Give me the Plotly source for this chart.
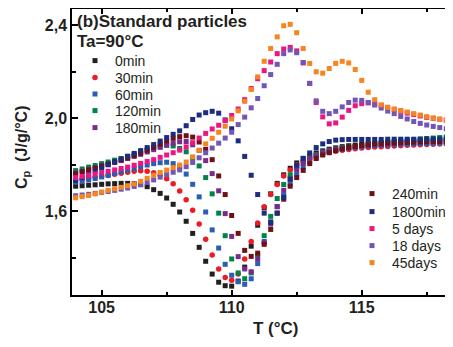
import plotly.graph_objects as go

T = [104.0, 104.25, 104.5, 104.75, 105.0, 105.25, 105.5, 105.75, 106.0, 106.25,
     106.5, 106.75, 107.0, 107.25, 107.5, 107.75, 108.0, 108.25, 108.5, 108.75,
     109.0, 109.25, 109.5, 109.75, 110.0, 110.25, 110.5, 110.75, 111.0, 111.25,
     111.5, 111.75, 112.0, 112.25, 112.5, 112.75, 113.0, 113.25, 113.5, 113.75,
     114.0, 114.25, 114.5, 114.75, 115.0, 115.25, 115.5, 115.75, 116.0, 116.25,
     116.5, 116.75, 117.0, 117.25, 117.5, 117.75, 118.0, 118.25, 118.5]

cp_0min = [1.708, 1.710, 1.712, 1.714, 1.716, 1.718, 1.719, 1.720, 1.720, 1.719,
           1.715, 1.706, 1.693, 1.677, 1.657, 1.630, 1.597, 1.557, 1.505, 1.445,
           1.385, 1.330, 1.295, 1.280, 1.278, 1.300, 1.360, 1.450, 1.540, 1.615,
           1.675, 1.720, 1.757, 1.785, 1.808, 1.826, 1.840, 1.851, 1.860, 1.867,
           1.873, 1.878, 1.882, 1.885, 1.888, 1.891, 1.893, 1.895, 1.897, 1.899,
           1.900, 1.902, 1.903, 1.904, 1.905, 1.906, 1.907, 1.908, 1.908]

cp_30min = [1.735, 1.738, 1.742, 1.746, 1.750, 1.754, 1.759, 1.764, 1.768, 1.772,
            1.774, 1.772, 1.766, 1.755, 1.740, 1.718, 1.687, 1.650, 1.605, 1.545,
            1.480, 1.412, 1.352, 1.315, 1.303, 1.330, 1.395, 1.470, 1.550, 1.620,
            1.672, 1.715, 1.752, 1.778, 1.800, 1.815, 1.828, 1.838, 1.846, 1.853,
            1.858, 1.862, 1.866, 1.869, 1.872, 1.874, 1.876, 1.878, 1.879, 1.881,
            1.882, 1.884, 1.885, 1.886, 1.887, 1.888, 1.889, 1.890, 1.891]

cp_60min = [1.725, 1.729, 1.735, 1.741, 1.748, 1.755, 1.762, 1.770, 1.777, 1.785,
            1.792, 1.799, 1.805, 1.809, 1.811, 1.805, 1.790, 1.760, 1.716, 1.662,
            1.597, 1.520, 1.442, 1.372, 1.325, 1.297, 1.286, 1.310, 1.375, 1.470,
            1.555, 1.620, 1.670, 1.718, 1.760, 1.790, 1.815, 1.832, 1.845, 1.855,
            1.862, 1.867, 1.872, 1.875, 1.878, 1.880, 1.882, 1.884, 1.886, 1.887,
            1.888, 1.889, 1.890, 1.891, 1.892, 1.893, 1.894, 1.895, 1.896]

cp_120min = [1.775, 1.782, 1.790, 1.797, 1.805, 1.812, 1.820, 1.827, 1.835, 1.845,
             1.855, 1.864, 1.872, 1.880, 1.884, 1.881, 1.870, 1.856, 1.830, 1.795,
             1.745, 1.675, 1.592, 1.495, 1.395, 1.335, 1.310, 1.335, 1.410, 1.495,
             1.578, 1.655, 1.715, 1.757, 1.789, 1.812, 1.830, 1.844, 1.855, 1.862,
             1.868, 1.872, 1.875, 1.879, 1.883, 1.887, 1.890, 1.893, 1.896, 1.899,
             1.902, 1.905, 1.908, 1.911, 1.913, 1.915, 1.917, 1.919, 1.920]

cp_180min = [1.765, 1.772, 1.780, 1.787, 1.795, 1.803, 1.810, 1.818, 1.827, 1.836,
             1.845, 1.855, 1.865, 1.875, 1.885, 1.893, 1.899, 1.900, 1.886, 1.862,
             1.818, 1.762, 1.688, 1.590, 1.492, 1.405, 1.352, 1.340, 1.395, 1.465,
             1.545, 1.620, 1.690, 1.738, 1.780, 1.806, 1.826, 1.841, 1.852, 1.860,
             1.866, 1.871, 1.875, 1.878, 1.881, 1.884, 1.886, 1.888, 1.890, 1.892,
             1.894, 1.896, 1.898, 1.899, 1.900, 1.901, 1.902, 1.903, 1.904]

cp_240min = [1.762, 1.770, 1.778, 1.786, 1.795, 1.803, 1.812, 1.821, 1.830, 1.840,
             1.850, 1.862, 1.875, 1.889, 1.903, 1.914, 1.921, 1.925, 1.919, 1.898,
             1.866, 1.822, 1.752, 1.672, 1.582, 1.505, 1.432, 1.406, 1.420, 1.458,
             1.522, 1.592, 1.652, 1.708, 1.745, 1.776, 1.805, 1.827, 1.842, 1.852,
             1.861, 1.868, 1.874, 1.879, 1.883, 1.886, 1.889, 1.891, 1.893, 1.894,
             1.895, 1.896, 1.897, 1.898, 1.899, 1.900, 1.900, 1.901, 1.902]

cp_1800min = [1.732, 1.745, 1.758, 1.772, 1.786, 1.800, 1.813, 1.825, 1.837, 1.849,
              1.861, 1.874, 1.887, 1.902, 1.917, 1.931, 1.946, 1.968, 1.995, 2.014,
              2.024, 2.030, 2.022, 1.993, 1.955, 1.903, 1.836, 1.755, 1.672, 1.592,
              1.552, 1.592, 1.660, 1.738, 1.798, 1.828, 1.851, 1.874, 1.890, 1.900,
              1.906, 1.908, 1.909, 1.909, 1.909, 1.909, 1.909, 1.909, 1.910, 1.910,
              1.910, 1.910, 1.910, 1.910, 1.911, 1.911, 1.911, 1.911, 1.911]

cp_5days = [1.745, 1.750, 1.755, 1.760, 1.766, 1.772, 1.778, 1.784, 1.790, 1.798,
            1.806, 1.814, 1.822, 1.832, 1.842, 1.852, 1.863, 1.877, 1.895, 1.915,
            1.935, 1.954, 1.970, 1.990, 2.012, 2.040, 2.080, 2.128, 2.170, 2.205,
            2.242, 2.278, 2.298, 2.305, 2.290, 2.238, 2.150, 2.068, 2.006, 1.976,
            1.980, 2.005, 2.034, 2.054, 2.063, 2.066, 2.063, 2.055, 2.047, 2.038,
            2.030, 2.022, 2.016, 2.010, 2.004, 2.000, 1.996, 1.993, 1.990]

cp_18days = [1.667, 1.670, 1.673, 1.677, 1.681, 1.685, 1.690, 1.695, 1.700, 1.707,
             1.714, 1.724, 1.735, 1.747, 1.758, 1.768, 1.778, 1.792, 1.810, 1.830,
             1.852, 1.872, 1.893, 1.915, 1.940, 1.973, 2.005, 2.045, 2.085, 2.140,
             2.188, 2.232, 2.278, 2.294, 2.282, 2.240, 2.150, 2.075, 2.030, 2.020,
             2.030, 2.049, 2.068, 2.078, 2.077, 2.068, 2.057, 2.044, 2.031, 2.020,
             2.008, 1.997, 1.986, 1.978, 1.971, 1.965, 1.960, 1.955, 1.951]

cp_45days = [1.658, 1.663, 1.668, 1.675, 1.683, 1.690, 1.697, 1.703, 1.710, 1.718,
             1.729, 1.742, 1.755, 1.767, 1.777, 1.788, 1.799, 1.812, 1.834, 1.862,
             1.890, 1.914, 1.940, 1.966, 1.997, 2.032, 2.073, 2.124, 2.178, 2.245,
             2.300, 2.350, 2.398, 2.404, 2.368, 2.300, 2.236, 2.200, 2.194, 2.214,
             2.236, 2.245, 2.238, 2.210, 2.163, 2.112, 2.080, 2.058, 2.047, 2.040,
             2.034, 2.027, 2.020, 2.014, 2.007, 2.001, 1.996, 1.990, 1.984]

series_names = ["0min", "30min", "60min", "120min", "180min",
                "240min", "1800min", "5 days", "18 days", "45days"]
series_values = [cp_0min, cp_30min, cp_60min, cp_120min, cp_180min,
                 cp_240min, cp_1800min, cp_5days, cp_18days, cp_45days]
series_colors = ["#231f20", "#ed1c24", "#2b5db3", "#00824a", "#7a2a8c",
                 "#6d1116", "#1c2d7f", "#ec1683", "#7256b5", "#f6841f"]
series_symbols = ["square", "circle", "square", "square", "square",
                  "square", "square", "square", "square", "square"]

FONT = "Liberation Sans, Arial, Helvetica, sans-serif"
TXT = "#231f20"

# page body adds an 8px offset; figure coords = screen coords - 8
OFF = 8
W, H = 453, 339
L, R, TOP, B = 64, 8, 1, 52
pw, ph = W - L - R, H - TOP - B

def px_x(sx):
    return (sx - OFF - L) / pw

def px_y(sy):
    return 1 - (sy - OFF - TOP) / ph

def cx(sx):
    return (sx - OFF) / W

def cy(sy):
    return 1 - (sy - OFF) / H

# legend entry layout: two columns of entries (screen px of left edge / row centre)
legend_left = [75, 75, 75, 75, 75, 352, 352, 352, 352, 352]
legend_rows = [61, 78, 94.5, 111, 128, 194, 212, 229, 246, 263]

fig = go.Figure()
legend_layout = {}
for i, (name, vals, col, sym) in enumerate(zip(series_names, series_values,
                                                 series_colors, series_symbols)):
    lid = "legend" if i == 0 else "legend%d" % (i + 1)
    fig.add_trace(go.Scatter(
        x=T, y=vals, mode="markers", name=name, showlegend=True,
        marker=dict(symbol=sym, size=5 if sym == "square" else 5.5, color=col,
                    line=dict(width=0)),
        legend=lid,
    ))
    legend_layout[lid] = dict(
        x=cx(legend_left[i]), y=cy(legend_rows[i]),
        xref="container", yref="container", xanchor="left", yanchor="middle",
        bgcolor="rgba(0,0,0,0)", borderwidth=0, visible=True,
        font=dict(family=FONT, size=14, color=TXT))

axis_common = dict(showline=True, linecolor="black", linewidth=1.5,
                   showgrid=False, zeroline=False, ticks="inside",
                   tickcolor="black", tickwidth=1.5, automargin=False,
                   tickfont=dict(family=FONT, size=16, color=TXT, weight="bold"))

fig.update_layout(
    width=W, height=H, showlegend=True,
    margin=dict(l=L, r=R, t=TOP, b=B, pad=0, autoexpand=False),
    paper_bgcolor="white", plot_bgcolor="white",
    separators=",.",
    font=dict(family=FONT, color=TXT),
    xaxis=dict(range=[103.86, 118.51], tick0=105, dtick=5, ticklen=5,
               mirror="ticks", ticklabelstandoff=-3,
               minor=dict(tick0=105, dtick=2.5, ticks="inside", ticklen=3,
                          tickcolor="black", tickwidth=1.5),
               **axis_common),
    yaxis=dict(range=[1.24, 2.470], tick0=1.6, dtick=0.4, tickformat=".1f",
               ticklen=6, mirror=False, ticklabelstandoff=0,
               minor=dict(tick0=1.6, dtick=0.2, ticks="inside", ticklen=4,
                          tickcolor="black", tickwidth=1.5),
               **axis_common),
    annotations=[
        dict(text="<b>(b)Standard particles</b>", x=px_x(75), y=px_y(21),
             xref="paper", yref="paper", xanchor="left", yanchor="middle",
             showarrow=False, font=dict(family=FONT, size=17, color=TXT)),
        dict(text="<b>Ta=90°C</b>", x=px_x(75), y=px_y(41),
             xref="paper", yref="paper", xanchor="left", yanchor="middle",
             showarrow=False, font=dict(family=FONT, size=17, color=TXT)),
        dict(text="<b>T (°C)</b>", x=px_x(275.5), y=px_y(328),
             xref="paper", yref="paper", xanchor="center", yanchor="middle",
             showarrow=False, font=dict(family=FONT, size=17, color=TXT)),
        dict(text="<b>C<sub>p</sub>\u00a0\u00a0(J/g/°C)</b>", x=px_x(22), y=px_y(148),
             xref="paper", yref="paper", xanchor="center", yanchor="middle",
             textangle=-90, showarrow=False,
             font=dict(family=FONT, size=16, color=TXT)),
    ],
    **legend_layout,
)

fig.write_html("out.html")
